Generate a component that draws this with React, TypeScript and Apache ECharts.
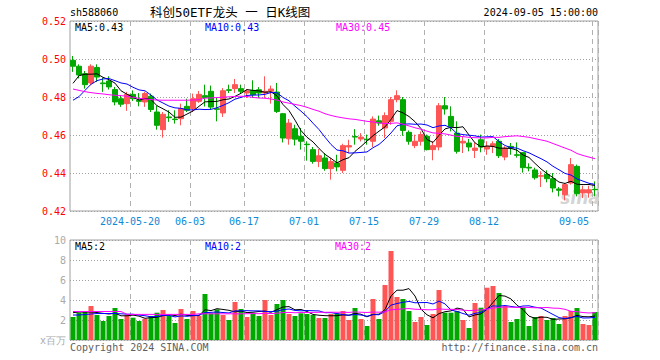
import React, { useEffect, useRef } from "react";
import * as echarts from "echarts";

const dates = [
  "2024-05-06","2024-05-07","2024-05-08","2024-05-09","2024-05-10","2024-05-13","2024-05-14","2024-05-15","2024-05-16","2024-05-17",
  "2024-05-20","2024-05-21","2024-05-22","2024-05-23","2024-05-24","2024-05-27","2024-05-28","2024-05-29","2024-05-30","2024-05-31",
  "2024-06-03","2024-06-04","2024-06-05","2024-06-06","2024-06-07","2024-06-11","2024-06-12","2024-06-13","2024-06-14",
  "2024-06-17","2024-06-18","2024-06-19","2024-06-20","2024-06-21","2024-06-24","2024-06-25","2024-06-26","2024-06-27","2024-06-28",
  "2024-07-01","2024-07-02","2024-07-03","2024-07-04","2024-07-05","2024-07-08","2024-07-09","2024-07-10","2024-07-11","2024-07-12",
  "2024-07-15","2024-07-16","2024-07-17","2024-07-18","2024-07-19","2024-07-22","2024-07-23","2024-07-24","2024-07-25","2024-07-26",
  "2024-07-29","2024-07-30","2024-07-31","2024-08-01","2024-08-02","2024-08-05","2024-08-06","2024-08-07","2024-08-08","2024-08-09",
  "2024-08-12","2024-08-13","2024-08-14","2024-08-15","2024-08-16","2024-08-19","2024-08-20","2024-08-21","2024-08-22","2024-08-23",
  "2024-08-26","2024-08-27","2024-08-28","2024-08-29","2024-08-30","2024-09-02","2024-09-03","2024-09-04","2024-09-05",
];

const labelDates = ["2024-05-20","2024-06-03","2024-06-17","2024-07-01","2024-07-15","2024-07-29","2024-08-12","2024-09-05"];

const opens = [
  .4993,.4962,.4923,.4874,.4955,.4874,.4884,.4839,.4791,.4765,
  .4814,.4783,.4774,.4804,.4721,.4628,.4695,.4684,.4686,.4751,
  .4739,.4777,.4807,.4830,.4738,.4716,.4838,.4844,.4844,.4821,
  .4835,.4838,.4821,.4830,.4826,.4712,.4580,.4633,.4593,.4552,
  .4523,.4461,.4479,.4423,.4453,.4414,.4537,.4592,.4579,.4578,
  .4567,.4675,.4637,.4672,.4786,.4786,.4614,.4544,.4567,.4593,
  .4523,.4537,.4754,.4698,.4610,.4558,.4558,.4519,.4575,.4526,
  .4540,.4567,.4484,.4540,.4496,.4507,.4430,.4416,.4383,.4393,
  .4370,.4316,.4286,.4347,.4435,.4295,.4295,.4314,
];
const closes = [
  .4962,.4916,.4865,.4962,.4905,.4870,.4853,.4774,.4762,.4814,
  .4791,.4777,.4818,.4734,.4651,.4709,.4691,.4681,.4739,.4730,
  .4791,.4814,.4798,.4747,.4735,.4833,.4835,.4865,.4830,.4832,
  .4812,.4821,.4830,.4842,.4724,.4584,.4663,.4578,.4567,.4549,
  .4461,.4491,.4423,.4460,.4432,.4544,.4544,.4589,.4589,.4575,
  .4684,.4663,.4702,.4786,.4807,.4624,.4567,.4567,.4602,.4523,
  .4544,.4754,.4737,.4645,.4514,.4567,.4537,.4531,.4537,.4540,
  .4554,.4491,.4531,.4531,.4493,.4428,.4426,.4375,.4386,.4370,
  .4321,.4309,.4339,.4444,.4291,.4312,.4312,.4312,
];
const lows = [
  .4932,.4898,.4844,.4862,.4879,.4827,.4839,.4756,.4748,.4727,
  .4779,.4751,.4748,.4721,.4628,.4586,.4669,.4660,.4651,.4721,
  .4721,.4769,.4750,.4733,.4672,.4695,.4821,.4821,.4821,.4795,
  .4795,.4795,.4795,.4765,.4716,.4561,.4549,.4545,.4523,.4465,
  .4449,.4431,.4412,.4365,.4409,.4400,.4505,.4549,.4566,.4549,
  .4537,.4649,.4584,.4654,.4772,.4596,.4549,.4531,.4544,.4519,
  .4467,.4519,.4707,.4619,.4502,.4505,.4514,.4479,.4509,.4496,
  .4505,.4479,.4467,.4496,.4481,.4402,.4409,.4365,.4326,.4351,
  .4298,.4277,.4256,.4339,.4277,.4268,.4270,.4277,
];
const highs = [
  .5016,.4972,.4937,.4972,.4972,.4902,.4909,.4853,.4809,.4827,
  .4835,.4821,.4827,.4818,.4756,.4721,.4730,.4730,.4765,.4791,
  .4818,.4832,.4865,.4860,.4795,.4847,.4865,.4895,.4865,.4842,
  .4888,.4852,.4909,.4860,.4874,.4716,.4684,.4654,.4637,.4567,
  .4537,.4526,.4505,.4479,.4496,.4554,.4575,.4631,.4610,.4602,
  .4698,.4702,.4719,.4800,.4835,.4800,.4624,.4602,.4619,.4602,
  .4567,.4768,.4800,.4751,.4672,.4593,.4579,.4561,.4602,.4567,
  .4567,.4579,.4540,.4558,.4561,.4510,.4451,.4428,.4409,.4414,
  .4400,.4326,.4347,.4479,.4444,.4333,.4333,.4356,
];
// volume, millions
const volumes = [
  2.3,2.73,2.8,3.4,2.5,1.9,2.4,3.2,2.1,2.5,
  2.23,1.9,2.13,2.4,2.73,3.0,2.4,1.7,3.1,2.1,
  2.9,2.43,4.6,2.67,3.07,2.5,2.0,3.8,3.1,2.3,
  2.67,2.4,4.0,2.5,3.6,4.0,2.6,2.4,2.67,2.6,
  2.5,2.2,2.2,2.6,2.67,2.9,2.0,3.2,2.1,1.4,
  4.1,2.1,5.5,8.9,4.3,4.1,2.9,1.8,2.3,1.5,
  2.6,5.0,2.73,2.73,2.9,2.0,1.2,3.7,3.23,5.23,
  5.4,4.7,3.4,1.8,2.1,3.23,1.4,2.3,2.4,2.0,
  2.2,1.6,2.4,2.9,3.2,1.6,1.5,2.8,
];

// moving-average values before enough in-window history exists
const ma5Lead = [.4872,.4912,.4920,.4920];
const ma10Lead = [.4783,.4802,.4835,.4867,.4886,.4895,.4897,.4886,.4874];
const ma30Lead = [
  .4842,.4835,.4828,.4823,.4819,.4816,.4812,.4809,.4807,.4804,
  .4798,.4793,.4790,.4786,.4784,.4783,.4783,.4783,.4783,.4783,
  .4784,.4786,.4794,.4795,.4797,.4799,.4801,.4803,.4804,
];
const vma5Lead = [2.73,2.8,2.8,2.8];
const vma10Lead = [2.5,2.5,2.55,2.6,2.65,2.65,2.65,2.65,2.62];
const vma30Lead = [
  2.85,2.85,2.85,2.85,2.85,2.85,2.85,2.85,2.85,2.56,
  2.56,2.56,2.56,2.56,2.56,2.56,2.56,2.56,2.56,2.56,
  2.56,2.62,2.62,2.62,2.62,2.62,2.62,2.62,2.62,
];

const RED = "#ff5555";
const GREEN = "#00a800";
const MONO = '"DejaVu Sans Mono", "Liberation Mono", monospace';

function movingAvg(arr: number[], n: number, lead: number[]): number[] {
  return arr.map((_, i) => {
    if (i < n - 1) return lead[i];
    let s = 0;
    for (let k = i - n + 1; k <= i; k++) s += arr[k];
    return s / n;
  });
}

export default function App() {
  const ref = useRef<HTMLDivElement>(null);
  useEffect(() => {
    if (!ref.current) return;
    const chart = echarts.init(ref.current, undefined, { renderer: "svg" });
    const ma5 = movingAvg(closes, 5, ma5Lead);
    const ma10 = movingAvg(closes, 10, ma10Lead);
    const ma30 = movingAvg(closes, 30, ma30Lead);
    const vma5 = movingAvg(volumes, 5, vma5Lead);
    const vma10 = movingAvg(volumes, 10, vma10Lead);
    const vma30 = movingAvg(volumes, 30, vma30Lead);
    const last = dates.length - 1;
    const isMark = (idx: number) => labelDates.indexOf(dates[idx]) >= 0;

    const xAxisBase = (gi: number) => ({
      type: "category",
      gridIndex: gi,
      data: dates,
      boundaryGap: true,
      axisLine: { show: false },
      axisTick: { show: false },
      axisLabel: {
        show: gi === 0,
        interval: (idx: number) => isMark(idx),
        formatter: (v: string) => (v === "2024-05-20" ? v : v.slice(5)),
        color: "#0f88d6",
        fontFamily: MONO,
        fontSize: 10,
        margin: 5,
        padding: [0, 6, 0, 0],
        alignMaxLabel: "right",
      },
      splitLine: {
        show: true,
        interval: (idx: number) => isMark(idx),
        lineStyle: { color: "#b0b0b0", type: [5, 4], width: 1 },
      },
    });

    const text = (t: string, x: number, y: number, fill: string, align = "left", font = `10px ${MONO}`) => ({
      type: "text",
      x,
      y,
      z: 10,
      style: { text: t, fill, font, textAlign: align, textVerticalAlign: "middle" },
    });

    chart.setOption({
      animation: false,
      backgroundColor: "#ffffff",
      grid: [
        { left: 70, top: 21, width: 528, height: 190, show: true, borderColor: "#a0a0a0", borderWidth: 1 },
        { left: 70, top: 240, width: 528, height: 100, show: true, borderColor: "#a0a0a0", borderWidth: 1 },
      ],
      xAxis: [xAxisBase(0), xAxisBase(1)],
      yAxis: [
        {
          type: "value",
          gridIndex: 0,
          min: 0.42,
          max: 0.52,
          interval: 0.02,
          axisLine: { show: false },
          axisTick: { show: false },
          axisLabel: { color: "#ff0000", fontFamily: MONO, fontSize: 10, margin: 4, formatter: (v: number) => v.toFixed(2) },
          splitLine: { lineStyle: { color: "#a0a0a0", type: [1, 2] } },
        },
        {
          type: "value",
          gridIndex: 1,
          min: 0,
          max: 10,
          interval: 2,
          axisLine: { show: false },
          axisTick: { show: false },
          axisLabel: {
            color: "#aaaaaa",
            fontFamily: MONO,
            fontSize: 10,
            margin: 4,
            formatter: (v: number) => (v === 0 ? "x百万" : String(v)),
          },
          splitLine: { lineStyle: { color: "#a0a0a0", type: [1, 2] } },
        },
      ],
      series: [
        {
          type: "candlestick",
          xAxisIndex: 0,
          yAxisIndex: 0,
          barWidth: 5,
          data: dates.map((_, i) => [opens[i], closes[i], lows[i], highs[i]]),
          itemStyle: { color: RED, color0: GREEN, borderColor: RED, borderColor0: GREEN, borderWidth: 1 },
          z: 3,
        },
        { type: "line", xAxisIndex: 0, yAxisIndex: 0, data: ma5, showSymbol: false, lineStyle: { color: "#000000", width: 1 }, z: 4 },
        { type: "line", xAxisIndex: 0, yAxisIndex: 0, data: ma10, showSymbol: false, lineStyle: { color: "#0000ff", width: 1 }, z: 4 },
        { type: "line", xAxisIndex: 0, yAxisIndex: 0, data: ma30, showSymbol: false, lineStyle: { color: "#ff00ff", width: 1 }, z: 4 },
        {
          type: "bar",
          xAxisIndex: 1,
          yAxisIndex: 1,
          barWidth: 5,
          data: volumes.map((v, i) => ({ value: v, itemStyle: { color: closes[i] >= opens[i] ? RED : GREEN } })),
          z: 3,
        },
        { type: "line", xAxisIndex: 1, yAxisIndex: 1, data: vma5, showSymbol: false, lineStyle: { color: "#000000", width: 1 }, z: 4 },
        { type: "line", xAxisIndex: 1, yAxisIndex: 1, data: vma10, showSymbol: false, lineStyle: { color: "#0000ff", width: 1 }, z: 4 },
        { type: "line", xAxisIndex: 1, yAxisIndex: 1, data: vma30, showSymbol: false, lineStyle: { color: "#ff00ff", width: 1 }, z: 4 },
      ],
      graphic: [
        {
          type: "text",
          x: 580,
          y: 198,
          z: 0,
          style: {
            text: "sina",
            fill: "#d4d4d4",
            font: 'italic bold 17px "DejaVu Sans", sans-serif',
            textAlign: "center",
            textVerticalAlign: "middle",
          },
        },
        text("sh588060", 70, 12, "#000000"),
        text("科创50ETF龙头 一 日K线图", 150, 12, "#000000", "left", `12.5px ${MONO}, "Noto Sans CJK SC"`),
        text("2024-09-05 15:00:00", 598, 12, "#000000", "right"),
        text(`MA5:${ma5[last].toFixed(2)}`, 75, 27, "#000000"),
        text(`MA10:${ma10[last].toFixed(2)}`, 205, 27, "#0000ff"),
        text(`MA30:${ma30[last].toFixed(2)}`, 336, 27, "#ff00ff"),
        text(`MA5:${Math.floor(vma5[last])}`, 75, 246, "#000000"),
        text(`MA10:${Math.floor(vma10[last])}`, 205, 246, "#0000ff"),
        text(`MA30:${Math.floor(vma30[last])}`, 335, 246, "#ff00ff"),
        text("Copyright 2024 SINA.COM", 70, 347, "#606060"),
        text("http://finance.sina.com.cn", 598, 347, "#606060", "right"),
      ],
    });
    return () => chart.dispose();
  }, []);
  return <div ref={ref} style={{ position: "fixed", left: 0, top: 0, width: 660, height: 360 }} />;
}
